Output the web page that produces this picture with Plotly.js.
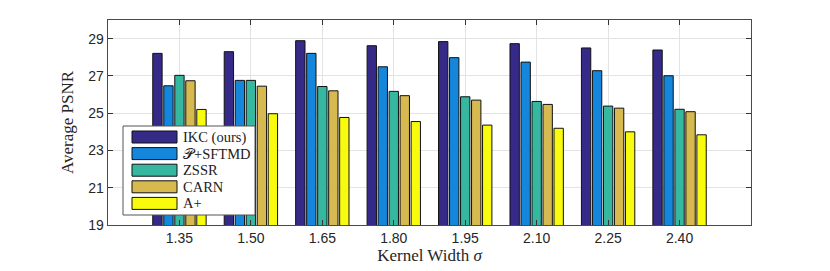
<!DOCTYPE html>
<html><head><meta charset="utf-8">
<script src="https://cdn.plot.ly/plotly-3.0.1.min.js"></script>
<style>body{margin:0;background:#fff}#c{width:830px;height:271px}</style>
</head><body><div id="c"></div>
<script>
const categories = ['1.35','1.50','1.65','1.80','1.95','2.10','2.25','2.40'];
const seriesNames = ['IKC (ours)','𝒫+SFTMD','ZSSR','CARN','A+'];
const ikc   = [28.21,28.30,28.89,28.62,28.84,28.73,28.50,28.39];
const psft  = [26.47,26.76,28.21,27.49,27.98,27.74,27.28,27.01];
const zssr  = [27.03,26.76,26.43,26.17,25.88,25.63,25.38,25.21];
const carn  = [26.74,26.45,26.20,25.94,25.70,25.47,25.27,25.08];
const aplus = [25.20,24.97,24.77,24.55,24.36,24.19,24.00,23.84];
const yTicks = [19,21,23,25,27,29];
const colors = ['#352a87','#1486db','#35b7a0','#d6b94f','#f9fb0e'];

const series = [ikc,psft,zssr,carn,aplus];
const traces = series.map((v,i)=>({
  type:'bar', x:categories, y:v, name:seriesNames[i],
  marker:{color:colors[i], line:{color:'#111', width:1}},
  showlegend:false
}));

const serif = 'Liberation Serif, DejaVu Serif, serif';
const shapes = [];
const annotations = [];
// custom legend (paper coords)
const W = 830-108-79, H = 271-20-46;
const px = x => (x-108)/W, py = y => 1-(y-20)/H;
shapes.push({type:'rect', xref:'paper', yref:'paper', x0:px(123), x1:px(255), y0:py(126), y1:py(215),
  fillcolor:'#fff', line:{color:'#555', width:1}, layer:'above'});
seriesNames.forEach((n,i)=>{
  const yc = 137 + i*16.6;
  shapes.push({type:'rect', xref:'paper', yref:'paper', x0:px(132), x1:px(177), y0:py(yc-6), y1:py(yc+6),
    fillcolor:colors[i], line:{color:'#111', width:1}, layer:'above'});
  annotations.push({xref:'paper', yref:'paper', x:px(181), y:py(yc), xanchor:'left', yanchor:'middle',
    text:n, showarrow:false, font:{family:serif, size:14.5, color:'#222'}});
});

const axisCommon = {showline:true, linecolor:'#4a4a4a', linewidth:1.3, mirror:'ticks',
  ticks:'inside', ticklen:5, tickcolor:'#333', gridcolor:'#e3e3e3', gridwidth:1,
  zeroline:false, tickfont:{family:'Liberation Sans, Arial, sans-serif', size:14, color:'#262626'}};

const layout = {
  width:830, height:271, margin:{l:108, r:79, t:20, b:46},
  paper_bgcolor:'#fff', plot_bgcolor:'#fff',
  barmode:'group', bargap:0.23, bargroupgap:0.15,
  xaxis:Object.assign({}, axisCommon, {type:'category', range:[-1,8], showgrid:true,
    title:{text:'Kernel Width <i>σ</i>', font:{family:serif, size:17, color:'#262626'}, standoff:4}}),
  yaxis:Object.assign({}, axisCommon, {range:[19,30], tickvals:yTicks, showgrid:true,
    title:{text:'Average PSNR', font:{family:serif, size:17, color:'#262626'}, standoff:10}}),
  shapes:shapes, annotations:annotations
};
Plotly.newPlot('c', traces, layout, {displayModeBar:false, staticPlot:true});
</script></body></html>
